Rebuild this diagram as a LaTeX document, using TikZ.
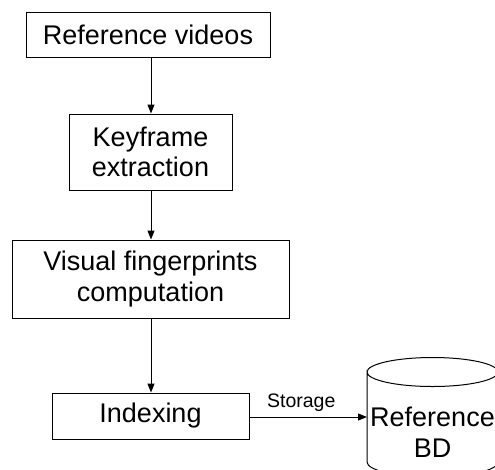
\documentclass[tikz,border=0pt]{standalone}
\usepackage{fontspec}
\setmainfont{Liberation Sans}
\usetikzlibrary{arrows.meta}
\begin{document}
\begin{tikzpicture}[x=1pt,y=-1pt,
  box/.style={draw,line width=1pt,inner sep=0pt,font=\fontsize{27}{30.5}\selectfont,align=center},
  conn/.style={line width=1pt,-{Triangle[length=9pt,width=7pt]}},
  lbl/.style={font=\fontsize{19.5}{22}\selectfont}]
\clip (0,0) rectangle (495,469);
\useasboundingbox (0,0) rectangle (495,469);
\node[box,minimum width=244pt,minimum height=45pt] (ref) at (148,34.5) {Reference videos};
\node[box,minimum width=163pt,minimum height=76pt] (key) at (150.5,152) {Keyframe\\extraction};
\node[box,minimum width=277pt,minimum height=78pt] (vis) at (150.5,279) {Visual fingerprints\\computation};
\node[box,minimum width=197pt,minimum height=46pt] (idx) at (150.5,416) {Indexing};
% cylinder
\draw[line width=1pt] (367,372) arc[start angle=180,end angle=360,x radius=65.5,y radius=14.5]
  arc[start angle=0,end angle=180,x radius=65.5,y radius=14.5] -- (367,462)
  arc[start angle=180,end angle=0,x radius=65.5,y radius=15] -- (498,372);
\node[font=\fontsize{27}{30.5}\selectfont,align=center,inner sep=0pt,minimum width=131pt,minimum height=60pt] (db) at (432.5,432) {Reference\\BD};
\coordinate (dbin) at (367,417);
\draw[conn] (ref.south -| 151,0) -- (key.north -| 151,0);
\draw[conn] (key.south -| 151,0) -- (vis.north -| 151,0);
\draw[conn] (vis.south -| 151,0) -- (idx.north -| 151,0);
\draw[conn] (idx.east |- dbin) -- node[lbl,above=2pt,xshift=-7pt] {Storage} (dbin);
\end{tikzpicture}
\end{document}
